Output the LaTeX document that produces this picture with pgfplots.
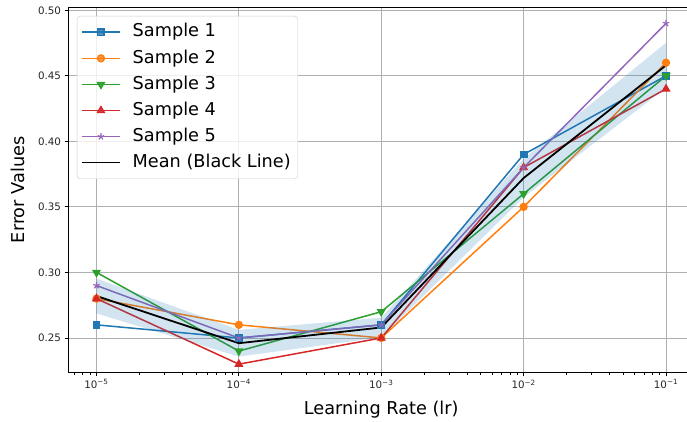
\documentclass[border=0pt]{standalone}
\usepackage{fontspec}
\setmainfont{DejaVu Sans}
\usepackage{pgfplots}
\pgfplotsset{compat=1.18}
\definecolor{c0}{HTML}{1F77B4}
\definecolor{c1}{HTML}{FF7F0E}
\definecolor{c2}{HTML}{2CA02C}
\definecolor{c3}{HTML}{D62728}
\definecolor{c4}{HTML}{9467BD}
\definecolor{gridc}{HTML}{B0B0B0}
\begin{document}
\begin{tikzpicture}
\begin{axis}[name=ax, at={(0,0)}, anchor=south west,
  scale only axis, width=626.5pt, height=365.7pt,
  xmode=log, xmin=6.30957e-6, xmax=0.158489,
  ymin=0.2235, ymax=0.5025,
  xtick={1e-5,1e-4,1e-3,1e-2,1e-1},
  xticklabels={10\textsuperscript{−5},10\textsuperscript{−4},10\textsuperscript{−3},10\textsuperscript{−2},10\textsuperscript{−1}},
  minor xtick={7e-6,8e-6,9e-6,2e-5,3e-5,4e-5,5e-5,6e-5,7e-5,8e-5,9e-5,2e-4,3e-4,4e-4,5e-4,6e-4,7e-4,8e-4,9e-4,2e-3,3e-3,4e-3,5e-3,6e-3,7e-3,8e-3,9e-3,2e-2,3e-2,4e-2,5e-2,6e-2,7e-2,8e-2,9e-2},
  ytick={0.25,0.30,0.35,0.40,0.45,0.50},
  yticklabels={0.25,0.30,0.35,0.40,0.45,0.50},
  grid=major,
  major grid style={color=gridc, line width=0.8pt},
  minor grid style={draw=none},
  tick align=outside, tick pos=left,
  major tick length=3.5pt, minor tick length=2pt,
  major tick style={black, line width=0.8pt},
  minor tick style={black, line width=0.6pt},
  axis line style={line width=0.8pt},
  tick label style={font=\fontsize{10.3}{12}\selectfont, color=black!85},
  xlabel={Learning Rate (lr)}, ylabel={Error Values},
  label style={font=\fontsize{17.7}{21}\selectfont},
  xlabel style={at={(axis description cs:0.5,0)}, anchor=base, yshift=-41.5pt},
  ylabel style={at={(axis description cs:-0.0702,0.5)}, anchor=base},
  legend cell align=left,
  legend style={at={(0,1)}, anchor=north west, xshift=9pt, yshift=-9pt,
    draw=black!20, rounded corners=3pt, fill=white, fill opacity=0.8, text opacity=1,
    font=\fontsize{17.7}{21}\selectfont, inner xsep=4pt, inner ysep=3pt,
    nodes={inner xsep=3pt, inner ysep=4.3pt, text height=13.5pt, text depth=4pt}, row sep=0pt,
    /tikz/every odd column/.append style={column sep=9pt}},
  legend image code/.code={\draw[mark repeat=2,mark phase=2,#1,line width=1.5pt] plot coordinates {(0pt,0pt) (19pt,0pt) (38pt,0pt)};},
]
\addplot[c0, line width=1.5pt, mark=square*, mark size=3.2pt] coordinates {(1e-5,0.26) (1e-4,0.25) (1e-3,0.26) (1e-2,0.39) (1e-1,0.45)};
\addlegendentry{Sample 1}
\addplot[c1, line width=1.5pt, mark=*, mark size=3.4pt] coordinates {(1e-5,0.28) (1e-4,0.26) (1e-3,0.25) (1e-2,0.35) (1e-1,0.46)};
\addlegendentry{Sample 2}
\addplot[c2, line width=1.5pt, mark=triangle*, mark size=3.8pt, mark options={rotate=180}] coordinates {(1e-5,0.30) (1e-4,0.24) (1e-3,0.27) (1e-2,0.36) (1e-1,0.45)};
\addlegendentry{Sample 3}
\addplot[c3, line width=1.5pt, mark=triangle*, mark size=3.8pt] coordinates {(1e-5,0.28) (1e-4,0.23) (1e-3,0.25) (1e-2,0.38) (1e-1,0.44)};
\addlegendentry{Sample 4}
\addplot[c4, line width=1.5pt, mark=star, mark size=3.4pt, mark options={fill=c4, line width=1.2pt}] coordinates {(1e-5,0.29) (1e-4,0.25) (1e-3,0.26) (1e-2,0.38) (1e-1,0.49)};
\addlegendentry{Sample 5}
\addplot[fill=c0, fill opacity=0.2, draw=none, forget plot] coordinates {(1e-5,0.2953) (1e-4,0.2562) (1e-3,0.2655) (1e-2,0.3867) (1e-1,0.4752) (1e-1,0.4408) (1e-2,0.3573) (1e-3,0.2505) (1e-4,0.2358) (1e-5,0.2687)} -- cycle;
\addplot[black, line width=1.8pt, mark=none] coordinates {(1e-5,0.282) (1e-4,0.246) (1e-3,0.258) (1e-2,0.372) (1e-1,0.458)};
\addlegendentry{Mean (Black Line)}
\end{axis}
\pgfresetboundingbox
\path[use as bounding box] (ax.south west) ++(-68pt,-49.3pt) rectangle ++(687pt,422pt);
\end{tikzpicture}
\end{document}
